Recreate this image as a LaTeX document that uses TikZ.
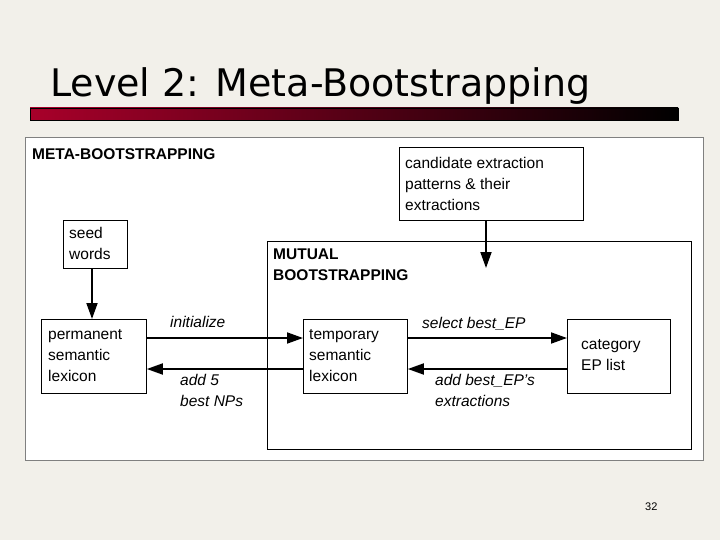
\documentclass[tikz,border=0pt]{standalone}
\usepackage{fontspec}
\setmainfont{Liberation Sans}
\newfontfamily\titlefont{DejaVu Sans}
\usetikzlibrary{arrows.meta}
\definecolor{bg}{HTML}{F2F0EA}
\definecolor{barred}{HTML}{A8002A}
\begin{document}
\begin{tikzpicture}[x=1pt,y=-1pt,
  box/.style={draw=black,line width=0.8pt,fill=white,inner sep=0pt},
  lbl/.style={anchor=north west,align=left,font=\fontsize{15.5}{21}\selectfont,inner sep=0pt},
  ital/.style={anchor=north west,align=left,font=\fontsize{15.5}{21}\selectfont\itshape,inner sep=0pt},
  arr/.style={line width=1.8pt,-{Triangle[length=16pt,width=11pt]}}]
\fill[bg] (0,0) rectangle (720,540);
\useasboundingbox (0,0) rectangle (720,540);
\node[anchor=base west,inner sep=0pt,font=\titlefont\fontsize{38}{40}\selectfont] (title) at (50,97) {Level 2: Meta-Bootstrapping};
\shade[left color=barred,right color=black] (30,108) rectangle (678,120);
\draw[black,line width=0.6pt] (30,108) rectangle (678,120);
\node[draw=gray,fill=white,minimum width=678,minimum height=323,anchor=north west,inner sep=0pt] (panel) at (25,137) {};
\node[anchor=north west,inner sep=0pt,font=\fontsize{15.5}{18}\selectfont\bfseries] (mt) at (32,148) {META-BOOTSTRAPPING};
\node[box,minimum width=424,minimum height=208,anchor=north west] (mutual) at (267,241) {};
\node[anchor=north west,inner sep=0pt,align=left,font=\fontsize{15.5}{21}\selectfont\bfseries] (mut) at (273,249) {MUTUAL\\BOOTSTRAPPING};
\node[box,minimum width=184,minimum height=73,anchor=north west] (cand) at (399,147) {};
\node[lbl] at (405,157) {candidate extraction\\patterns \& their\\extractions};
\node[box,minimum width=64,minimum height=48,anchor=north west] (seed) at (63,220) {};
\node[lbl] at (69,227) {seed\\words};
\node[box,minimum width=105,minimum height=74,anchor=north west] (perm) at (41,319) {};
\node[lbl] at (48,329) {permanent\\semantic\\lexicon};
\node[box,minimum width=104,minimum height=74,anchor=north west] (temp) at (303,319) {};
\node[lbl] at (309,329) {temporary\\semantic\\lexicon};
\node[box,minimum width=103,minimum height=74,anchor=north west] (cat) at (567,319) {};
\node[lbl] at (581,339) {category\\EP list};
\coordinate (candend) at (486,268);
\draw[arr] (cand.south -| candend) -- (candend);
\draw[arr] (seed.south -| 92,0) -- (perm.north -| 92,0);
\draw[arr] (perm.east |- 0,338) -- (temp.west |- 0,338);
\draw[arr] (temp.west |- 0,369) -- (perm.east |- 0,369);
\draw[arr] (temp.east |- 0,338) -- (cat.west |- 0,338);
\draw[arr] (cat.west |- 0,369) -- (temp.east |- 0,369);
\node[ital] at (170,316) {initialize};
\node[ital] at (180,374) {add 5\\best NPs};
\node[ital] at (422,317) {select best\_EP};
\node[ital] at (435,374) {add best\_EP's\\extractions};
\node[anchor=base west,inner sep=0pt,font=\fontsize{11}{13}\selectfont] (pg) at (645,510) {32};
\end{tikzpicture}
\end{document}
